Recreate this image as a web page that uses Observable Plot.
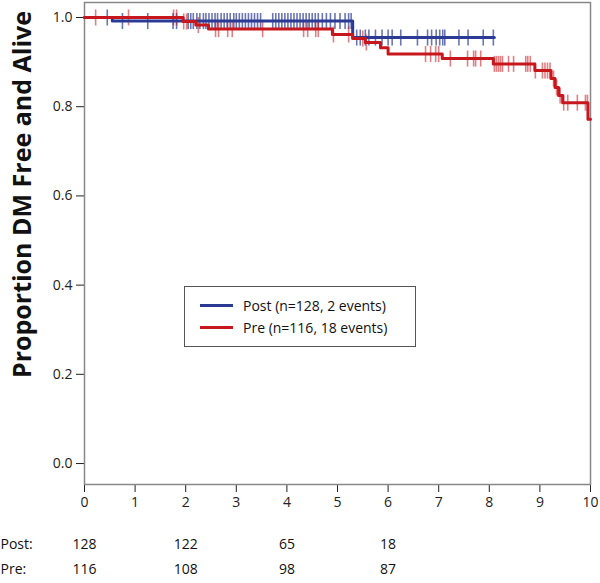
<!DOCTYPE html>
<html><head><meta charset="utf-8">
<script src="https://cdn.jsdelivr.net/npm/d3@7"></script>
<script src="https://cdn.jsdelivr.net/npm/@observablehq/plot@0.6"></script>
<style>
body{margin:0;background:#fff;font-family:"Open Sans",sans-serif}
#wrap{position:relative;width:600px;height:583px}
#legend{position:absolute;left:184px;top:286px;width:232px;height:61px;border:1px solid #555;box-sizing:border-box;background:#fff;font-size:14px;color:#111}
.row{position:absolute;left:15px;display:flex;align-items:center;white-space:nowrap}
.sw{width:33px;height:3px;margin-right:10px}
</style></head>
<body><div id="wrap"></div>
<script>
const seriesNames = ["Post (n=128, 2 events)", "Pre (n=116, 18 events)"];
const seriesColors = ["#2b3a94", "#c8161d"];
const blueStepTimes = [0, 0.55, 5.3];
const blueStepSurv = [1, 0.992, 0.955];
const blueEndTime = 8.1;
const redStepTimes = [0, 1.95, 2.2, 2.45, 4.9, 5.3, 5.55, 5.85, 6.0, 7.07, 8.08, 8.9, 9.22, 9.3, 9.37, 9.45, 9.95];
const redStepSurv = [1, 0.991, 0.983, 0.974, 0.962, 0.953, 0.944, 0.932, 0.918, 0.908, 0.896, 0.881, 0.863, 0.843, 0.825, 0.809, 0.772];
const redEndTime = 10;
const blueCensor = [0.45, 0.75, 1.25, 1.75, 1.82, 2.05, 2.1, 2.15, 2.22, 2.28, 2.35, 2.4, 2.46, 2.52, 2.58, 2.63, 2.7, 2.76, 2.82, 2.88, 2.95, 3.0, 3.06, 3.12, 3.18, 3.24, 3.3, 3.36, 3.42, 3.48, 3.72, 3.78, 3.84, 3.9, 3.96, 4.02, 4.08, 4.14, 4.2, 4.26, 4.32, 4.38, 4.44, 4.5, 4.56, 4.62, 4.7, 4.78, 4.86, 4.95, 5.05, 5.15, 5.22, 5.27, 5.38, 5.45, 5.55, 5.62, 5.75, 5.88, 6.0, 6.08, 6.25, 6.58, 6.78, 6.86, 6.95, 7.02, 7.08, 7.12, 7.4, 7.58, 7.88, 8.08];
const redCensor = [0.22, 0.87, 1.76, 1.82, 1.96, 2.02, 2.25, 2.59, 2.65, 2.83, 2.92, 3.52, 4.33, 4.41, 4.57, 4.62, 4.92, 5.22, 5.5, 5.57, 6.74, 6.84, 6.94, 7.0, 7.23, 7.57, 7.69, 7.73, 7.83, 8.1, 8.14, 8.18, 8.22, 8.26, 8.38, 8.48, 8.72, 8.76, 8.81, 8.91, 9.05, 9.1, 9.15, 9.2, 9.27, 9.33, 9.4, 9.47, 9.55, 9.74, 9.9, 9.94];
const xTicks = [0, 1, 2, 3, 4, 5, 6, 7, 8, 9, 10];
const yTicks = [0, 0.2, 0.4, 0.6, 0.8, 1.0];
const yLabel = "Proportion DM Free and Alive";
const atRiskTimes = [0, 2, 4, 6];
const postAtRisk = [128, 122, 65, 18];
const preAtRisk = [116, 108, 98, 87];
const rowLabels = ["Post:", "Pre:"];

function stepLine(times, surv, end) {
  const pts = times.map((t, i) => ({t, s: surv[i]}));
  pts.push({t: end, s: surv[surv.length - 1]});
  return pts;
}
function survAt(times, surv, t) {
  let v = surv[0];
  for (let i = 0; i < times.length; i++) if (times[i] <= t) v = surv[i];
  return v;
}
const half = 0.018;
const blueTicks = blueCensor.map(t => ({t, s: survAt(blueStepTimes, blueStepSurv, t)}));
const redTicks = redCensor.map(t => ({t, s: survAt(redStepTimes, redStepSurv, t)}));

const chart = Plot.plot({
  width: 600, height: 583,
  marginLeft: 84, marginRight: 10, marginTop: 2, marginBottom: 99,
  style: {fontSize: "14px", fontFamily: "'Open Sans', sans-serif", color: "#222", background: "#fff"},
  x: {domain: [0, 10], ticks: xTicks, tickSize: 8, tickPadding: 5, label: null},
  y: {domain: [-0.047, 1.0336], ticks: yTicks, tickFormat: d3.format(".1f"), tickSize: 8, tickPadding: 4, label: null},
  marks: [
    Plot.frame({stroke: "#888", strokeWidth: 1.5}),
    Plot.link(blueTicks, {x1: "t", x2: "t", y1: d => d.s - half, y2: d => d.s + half, stroke: seriesColors[0], strokeOpacity: 0.7, strokeWidth: 1.6}),
    Plot.link(redTicks, {x1: "t", x2: "t", y1: d => d.s - half, y2: d => d.s + half, stroke: seriesColors[1], strokeOpacity: 0.55, strokeWidth: 1.6}),
    Plot.line(stepLine(blueStepTimes, blueStepSurv, blueEndTime), {x: "t", y: "s", curve: "step-after", stroke: seriesColors[0], strokeWidth: 3}),
    Plot.line(stepLine(redStepTimes, redStepSurv, redEndTime), {x: "t", y: "s", curve: "step-after", stroke: seriesColors[1], strokeWidth: 3}),
    Plot.text([yLabel], {frameAnchor: "left", dx: -62, dy: -49, rotate: -90, textAnchor: "middle", fontSize: 25, fontWeight: "bold", fill: "#111"}),
    Plot.text(atRiskTimes, {x: d => d, text: (d, i) => postAtRisk[i], frameAnchor: "bottom", dy: 64, fill: "#111"}),
    Plot.text(atRiskTimes, {x: d => d, text: (d, i) => preAtRisk[i], frameAnchor: "bottom", dy: 89, fill: "#111"}),
    Plot.text([rowLabels[0]], {frameAnchor: "bottom-left", dx: -84, dy: 64, textAnchor: "start", fill: "#111"}),
    Plot.text([rowLabels[1]], {frameAnchor: "bottom-left", dx: -84, dy: 89, textAnchor: "start", fill: "#111"})
  ]
});
const wrap = document.getElementById("wrap");
wrap.appendChild(chart);
const lg = document.createElement("div");
lg.id = "legend";
seriesNames.forEach((n, i) => {
  const r = document.createElement("div");
  r.className = "row";
  r.style.top = (i === 0 ? 9 : 31) + "px";
  const sw = document.createElement("span");
  sw.className = "sw"; sw.style.background = seriesColors[i];
  const tx = document.createElement("span");
  tx.textContent = n;
  r.appendChild(sw); r.appendChild(tx);
  lg.appendChild(r);
});
wrap.appendChild(lg);
</script></body></html>
